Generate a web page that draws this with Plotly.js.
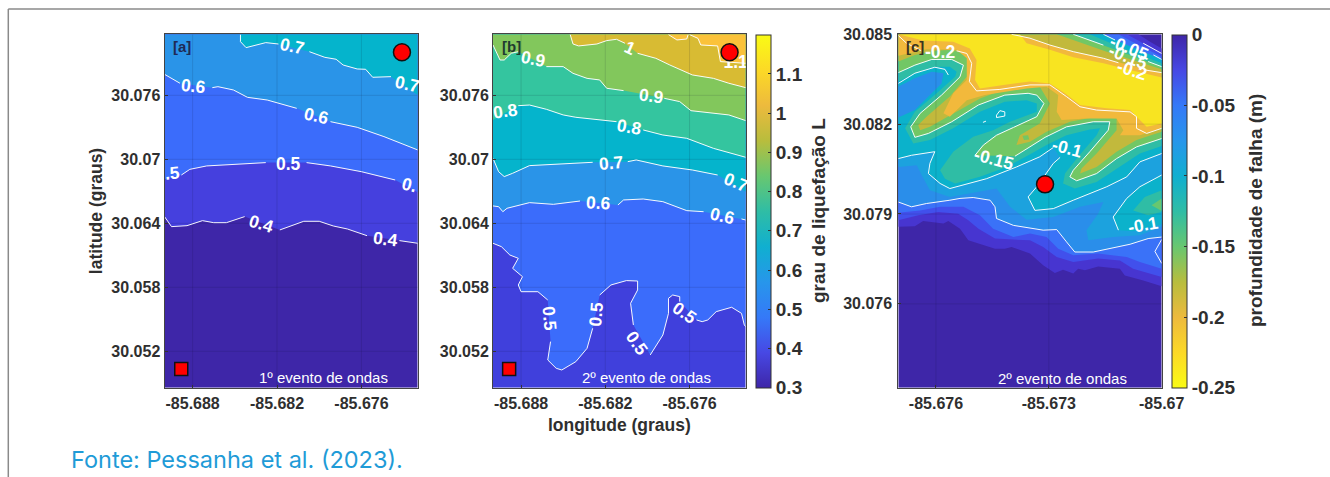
<!DOCTYPE html>
<html>
<head>
<meta charset="utf-8">
<script src="https://cdn.plot.ly/plotly-3.0.1.min.js"></script>
<style>html,body{margin:0;padding:0;background:#fff}</style>
</head>
<body>
<div id="chart" style="width:1330px;height:477px"></div>
<script>
// ---------- panel [a]: contour lines (null = gap under a label)
var a_lon_04=[-85.6900,-85.6895,-85.6884,-85.6873,-85.6865,-85.6856,-85.6843,null,-85.6818,-85.6801,-85.6790,-85.6780,-85.6770,-85.6756,null,-85.6733,-85.6720];
var a_lat_04=[30.06463,30.06369,30.06378,30.06425,30.06406,30.06406,30.06463,null,30.06338,30.06419,30.06419,30.06375,30.06347,30.06284,null,30.06238,30.06213];
var a_lon_05=[-85.6900,null,-85.6888,-85.6882,-85.6870,-85.6851,-85.6828,null,-85.6799,-85.6782,-85.6760,-85.6736,null,-85.6720];
var a_lat_05=[30.06813,null,30.06853,30.06906,30.06938,30.06953,30.06969,null,30.06969,30.06938,30.06884,30.06806,null,30.06691];
var a_lon_06=[-85.6900,-85.6889,null,-85.6866,-85.6862,-85.6851,-85.6841,-85.6827,-85.6806,null,-85.6782,-85.6763,-85.6744,-85.6730,-85.6720];
var a_lat_06=[30.07797,30.07713,null,30.07672,30.07681,30.07650,30.07581,30.07556,30.07478,null,30.07353,30.07300,30.07213,30.07144,30.07088];
var a_lon_07=[-85.6846,-85.6846,-85.6842,-85.6828,-85.6819,null,-85.6797,-85.6786,-85.6778,-85.6773,-85.6763,-85.6757,-85.6752,-85.6739,null,-85.6720];
var a_lat_07=[30.08169,30.08103,30.08047,30.08094,30.08081,null,30.08009,30.07956,30.07938,30.07884,30.07847,30.07844,30.07769,30.07775,null,30.07603];
var a_label_text=["0.7","0.7","0.6","0.6",".5","0.5","0.","0.4","0.4"];
var a_label_lon=[-85.68094,-85.67276,-85.68794,-85.67916,-85.68941,-85.68118,-85.67257,-85.68308,-85.6743];
var a_label_lat=[30.08063,30.07706,30.07688,30.07409,30.06869,30.06953,30.06759,30.06394,30.0625];
var a_label_angle=[12,12,6,13,-5,0,14,17,7];

// ---------- panel [b]
var b_lon_05=[-85.6900,-85.6894,-85.6888,-85.6882,-85.6886,-85.6879,-85.6882,-85.6880,-85.6868,-85.6861,null,-85.6859,-85.6861,-85.6855,-85.6851,-85.6841,-85.6833,-85.6829,null,-85.6824,-85.6816,-85.6805,-85.6797,-85.6797,-85.6802,-85.6800,null,-85.6788,-85.6779,-85.6775,-85.6775,-85.6772,-85.6767,-85.6767,null,-85.6755,-85.6751,-85.6747,-85.6741,-85.6730,-85.6723,-85.6721,-85.6720];
var b_lat_05=[30.06213,30.06181,30.06103,30.06072,30.05978,30.05900,30.05822,30.05759,30.05759,30.05681,null,30.05291,30.05119,30.05041,30.05025,30.05103,30.05228,30.05416,null,30.05728,30.05822,30.05863,30.05859,30.05775,30.05650,30.05447,null,30.05166,30.05353,30.05556,30.05697,30.05728,30.05713,30.05666,null,30.05494,30.05478,30.05494,30.05572,30.05613,30.05556,30.05447,30.05431];
var b_lon_06=[-85.6900,-85.6896,-85.6893,-85.6890,-85.6874,-85.6857,-85.6838,null,-85.6811,-85.6807,-85.6793,-85.6779,-85.6762,-85.6750,null,-85.6723,-85.6720];
var b_lat_06=[30.06563,30.06556,30.06509,30.06541,30.06594,30.06578,30.06609,null,30.06572,30.06619,30.06628,30.06603,30.06519,30.06509,null,30.06441,30.06431];
var b_lon_07=[-85.6900,-85.6896,-85.6892,-85.6886,-85.6874,-85.6850,-85.6829,null,-85.6804,-85.6798,-85.6779,-85.6758,-85.6740,null,-85.6720];
var b_lat_07=[30.07009,30.06884,30.06838,30.06869,30.06941,30.06956,30.06972,null,30.06978,30.06994,30.06938,30.06900,30.06853,null,30.06697];
var b_lon_08=[-85.6900,null,-85.6882,-85.6874,-85.6862,-85.6850,-85.6841,-85.6829,-85.6812,null,-85.6793,-85.6779,-85.6762,-85.6743,-85.6720];
var b_lat_08=[30.07369,null,30.07503,30.07509,30.07469,30.07416,30.07394,30.07375,30.07353,null,30.07275,30.07228,30.07197,30.07103,30.07019];
var b_lon_09=[-85.6900,-85.6895,-85.6892,-85.6887,-85.6882,null,-85.6862,-85.6850,-85.6843,-85.6833,-85.6824,-85.6819,-85.6807,null,-85.6778,-85.6767,-85.6759,-85.6743,-85.6732,-85.6720];
var b_lat_09=[30.08072,30.07931,30.07931,30.07994,30.08009,null,30.07869,30.07869,30.07806,30.07759,30.07744,30.07666,30.07644,null,30.07572,30.07541,30.07456,30.07431,30.07416,30.07363];
var b_lon_10=[-85.6845,-85.6843,-85.6839,-85.6826,-85.6819,-85.6812,-85.6806,null,-85.6797,-85.6784,-85.6774,-85.6758,-85.6743,-85.6732,-85.6720];
var b_lat_10=[30.08169,30.08081,30.08063,30.08081,30.08113,30.08125,30.08088,null,30.07994,30.07947,30.07884,30.07791,30.07759,30.07713,30.07672];
var b_lon_11=[-85.6760,-85.6754,-85.6752,-85.6740,-85.6738,-85.6721,-85.6720];
var b_lat_11=[30.08169,30.08134,30.08072,30.08063,30.07916,30.07900,30.07900];
var b_lon_11s=[-85.6775,-85.6769,-85.6762,-85.6761];
var b_lat_11s=[30.08169,30.08119,30.08128,30.08169];
var b_label_text=["0.9","0.9","0.8","0.8","0.7","0.7","0.6","0.6","1","0.5","0.5","0.5","0.5"];
var b_label_lon=[-85.6871,-85.67868,-85.68909,-85.68027,-85.68162,-85.67272,-85.68245,-85.67367,-85.68022,-85.686,-85.68264,-85.67974,-85.67635];
var b_label_lat=[30.07938,30.07594,30.07456,30.07306,30.06963,30.06791,30.06594,30.06469,30.08041,30.05509,30.05547,30.05281,30.05556];
var b_label_angle=[12,8,-8,10,-5,22,3,13,25,85,-85,55,35];

// ---------- panel [c]: filled bands, each walked from the left edge to the right edge and round the top
var c_lon_b1=[-85.677,-85.67656,-85.67634,-85.67611,-85.6758,-85.67567,-85.67536,-85.67514,-85.67443,-85.67417,-85.67399,-85.6735,-85.67315,-85.67284,-85.67262,-85.67235,-85.67222,-85.67204,-85.67169,-85.67111,-85.67098,-85.67049,-85.67,-85.67,-85.67031,-85.67062,-85.677];
var c_lat_b1=[30.07857,30.07859,30.07877,30.07873,30.07868,30.07877,30.07851,30.07812,30.07784,30.07784,30.0779,30.07768,30.07729,30.07703,30.07714,30.07701,30.07717,30.07712,30.07725,30.07717,30.07695,30.07678,30.07659,30.08453,30.08475,30.085,30.085];
var c_lon_b2=[-85.677,-85.67647,-85.67594,-85.67541,-85.67514,-85.67487,-85.67443,-85.6735,-85.67315,-85.67279,-85.67235,-85.67169,-85.67111,-85.67076,-85.67,-85.67,-85.67049,-85.67093,-85.677];
var c_lat_b2=[30.07879,30.07896,30.07907,30.07901,30.07879,30.07851,30.07818,30.07812,30.0779,30.07756,30.0774,30.07751,30.07745,30.07717,30.0769,30.08436,30.0847,30.085,30.085];
var c_lon_b3=[-85.677,-85.67642,-85.67589,-85.67527,-85.67483,-85.67448,-85.67394,-85.6735,-85.67306,-85.67275,-85.67235,-85.67169,-85.67093,-85.67058,-85.67,-85.67,-85.67067,-85.67115,-85.677];
var c_lat_b3=[30.07904,30.07912,30.07924,30.07924,30.07896,30.07851,30.07823,30.07835,30.07823,30.07784,30.07762,30.07768,30.07756,30.0774,30.07717,30.08425,30.08468,30.085,30.085];
var c_lon_m005=[-85.677,-85.67665,-85.67625,-85.67589,-85.67563,-85.67536,-85.67501,-85.67456,-85.67443,-85.67439,-85.67394,-85.67315,-85.67279,-85.67253,-85.67231,-85.67182,-85.6712,-85.67084,-85.67036,-85.67];
var c_lat_m005=[30.0794,30.07924,30.07935,30.0794,30.07946,30.07952,30.07955,30.07946,30.07924,30.07885,30.07862,30.07846,30.07848,30.07807,30.07773,30.07773,30.0779,30.07799,30.07818,30.07823];
var c_lon_m005_close=[-85.67,-85.67093,-85.67155,-85.677];
var c_lat_m005_close=[30.08416,30.08464,30.085,30.085];
var c_lon_b5=[-85.677,-85.67651,-85.67638,-85.67616,-85.67563,-85.67483,-85.67439,-85.67403,-85.67359,-85.67288,-85.67217,-85.67155,-85.67169,-85.672,-85.67195,-85.67129,-85.67058,-85.67,-85.67,-85.67093,-85.67155,-85.677];
var c_lat_b5=[30.08057,30.08063,30.0803,30.07979,30.07957,30.07974,30.07985,30.07924,30.07881,30.0789,30.07924,30.0794,30.07901,30.07846,30.07812,30.07823,30.07829,30.07857,30.08416,30.08464,30.085,30.085];
var c_lon_m010=[-85.677,-85.67665,-85.67603,-85.67616,-85.6762,-85.67589,-85.67563,-85.67465,-85.67386,-85.67324,-85.67288,null,-85.6727,-85.67288,-85.67332,-85.67355,-85.67337,-85.67288,-85.67235,-85.67146,-85.67093,-85.67058,-85.67];
var c_lat_m010=[30.08085,30.08096,30.08108,30.08069,30.08035,30.08002,30.07985,30.08018,30.08057,30.08091,30.08122,null,30.08089,30.08069,30.07991,30.07957,30.07912,30.07918,30.07946,30.07991,30.08024,30.08074,30.08102];
var c_lon_m010_close=[-85.67,-85.67093,-85.67155,-85.677];
var c_lat_m010_close=[30.08416,30.08464,30.085,30.085];
var c_lon_blob=[-85.67,-85.67058,-85.67093,-85.67129,-85.67115,-85.67076,-85.67];
var c_lat_blob=[30.0803,30.07991,30.07952,30.0789,30.07846,30.07842,30.07866];
var c_lon_blob2=[-85.67,-85.67045,-85.67076,-85.67036,-85.67];
var c_lat_blob2=[30.07979,30.07957,30.07912,30.07896,30.07907];
var c_lon_blob3=[-85.67,-85.67027,-85.67];
var c_lat_blob3=[30.07952,30.07929,30.0791];
var c_lon_b7=[-85.677,-85.67656,-85.67607,-85.67563,-85.67545,-85.67549,-85.67598,-85.67656,-85.67682,-85.6766,-85.67616,-85.67554,-85.67483,-85.67417,-85.67359,-85.67332,-85.67332,-85.67403,-85.67448,-85.67501,-85.67554,-85.67589,-85.67576,-85.67549,-85.67483,-85.67412,-85.67346,-85.67306,-85.67253,-85.67191,-85.67164,-85.67173,-85.67222,-85.67257,-85.67262,-85.67231,-85.67173,-85.67111,-85.67058,-85.67,-85.67,-85.67102,-85.67191,-85.677];
var c_lat_b7=[30.08342,30.0837,30.08392,30.08392,30.08375,30.08358,30.08303,30.08241,30.08186,30.08135,30.08147,30.08186,30.08241,30.08275,30.0828,30.08269,30.08241,30.08208,30.0818,30.08158,30.08108,30.08046,30.08018,30.08002,30.08024,30.08057,30.08102,30.0813,30.08163,30.08182,30.08186,30.08163,30.08091,30.08035,30.08002,30.07985,30.08007,30.08057,30.08102,30.08127,30.08403,30.08453,30.085,30.085];
var c_lon_m015=[-85.677,-85.67656,-85.67611,-85.67558,-85.67527,-85.67536,-85.67585,-85.67642,-85.67667,-85.67656,-85.6762,-85.67558,-85.67487,-85.67417,-85.67355,-85.67332,-85.67313,-85.67332,-85.67394,-85.67439,-85.67474,-85.67496,null,-85.6739,-85.6735,-85.6731,-85.67253,-85.67182,-85.67138,-85.67142,-85.67191,-85.67235,-85.67244,-85.67226,-85.67173,-85.6712,-85.67067,-85.67];
var c_lat_m015=[30.08372,30.08397,30.08416,30.08416,30.08397,30.08358,30.08297,30.08236,30.08191,30.08156,30.08169,30.08208,30.08264,30.08297,30.08303,30.08297,30.08269,30.08225,30.08189,30.08163,30.0813,30.08096,null,30.08093,30.08124,30.08156,30.08191,30.08208,30.08208,30.0818,30.08108,30.08046,30.08024,30.08011,30.08035,30.08085,30.08124,30.08152];
var c_lon_m015_close=[-85.67,-85.6712,-85.67235,-85.677];
var c_lat_m015_close=[30.08392,30.08448,30.085,30.085];
var c_lon_b9=[-85.677,-85.67656,-85.67603,-85.67554,-85.67514,-85.67514,-85.67563,-85.67625,-85.67647,-85.67642,-85.67616,-85.67554,-85.67483,-85.67412,-85.67324,-85.67297,-85.67324,-85.67377,-85.67386,-85.6735,-85.67306,-85.67244,-85.67173,-85.6712,-85.6712,-85.67173,-85.67213,-85.67217,-85.67173,-85.6712,-85.67067,-85.67,-85.67,-85.67146,-85.67279,-85.677];
var c_lat_b9=[30.08409,30.08431,30.08445,30.08448,30.08425,30.08364,30.08292,30.08225,30.08197,30.0818,30.08191,30.08236,30.08286,30.08319,30.08325,30.08269,30.08202,30.08163,30.0813,30.08141,30.08175,30.08208,30.08225,30.08219,30.0818,30.08102,30.08052,30.08035,30.08057,30.08108,30.08147,30.08175,30.08383,30.08442,30.085,30.085];
var c_lon_b10=[-85.677,-85.67625,-85.67545,-85.67518,-85.67518,-85.67554,-85.6758,-85.67563,-85.67518,-85.6747,-85.67359,-85.67306,-85.67275,-85.67279,-85.67266,-85.672,-85.6712,-85.67102,-85.67111,-85.67058,-85.67,-85.67,-85.67084,-85.67155,-85.67235,-85.67297,-85.6735,-85.67399,-85.677];
var c_lat_b10=[30.08428,30.0845,30.08448,30.0842,30.08347,30.08303,30.08236,30.08225,30.0828,30.08297,30.08319,30.08325,30.08297,30.08241,30.08214,30.08219,30.08219,30.0818,30.08163,30.08163,30.08186,30.08372,30.08397,30.0842,30.08442,30.08464,30.08487,30.085,30.085];
var c_lon_b11=[-85.677,-85.67634,-85.67554,-85.6751,-85.67492,-85.67496,-85.67483,-85.67421,-85.6735,-85.67297,-85.67257,-85.67217,-85.67146,-85.67084,-85.67058,-85.6704,-85.67,-85.67,-85.67084,-85.67155,-85.67235,-85.67297,-85.67359,-85.67377];
var c_lat_b11=[30.085,30.08479,30.08475,30.08453,30.08414,30.08347,30.08319,30.08331,30.08342,30.08336,30.08303,30.08264,30.08253,30.08247,30.08214,30.08191,30.08202,30.08356,30.08381,30.08403,30.08423,30.08448,30.0847,30.085];
var c_lon_tongue=[-85.677,-85.67656,-85.67611,-85.6758,-85.67585,-85.6762,-85.67656,-85.677];
var c_lat_tongue=[30.08325,30.08353,30.08375,30.0837,30.08336,30.08292,30.08247,30.08222];
var c_lon_spot=[-85.6737,-85.67355,-85.67352,-85.67366];
var c_lat_spot=[30.08161,30.08163,30.08149,30.08147];
// white contour lines of panel [c] that are not a fill edge
var c_lon_arc=[-85.677,-85.67656,-85.67603,-85.67576,-85.67567];
var c_lat_arc=[30.08336,30.0837,30.0839,30.08383,30.08364];
var c_lon_m02=[-85.677,-85.67678,-85.67634,null,-85.67545,-85.67518,-85.67505,-85.67511,-85.67492,-85.6743,-85.6735,-85.67297,-85.67253,-85.67217,-85.67173,-85.67084,-85.67067,-85.67067,-85.6704,-85.67];
var c_lat_m02=[30.08496,30.0847,30.08442,null,30.08445,30.08436,30.08403,30.08342,30.08311,30.08316,30.08331,30.08331,30.08292,30.08258,30.08247,30.08241,30.08225,30.08186,30.08169,30.08186];
var c_lon_tr02=[-85.67399,-85.6735,-85.67297,-85.67235,-85.67155,-85.67115,null,-85.67045,-85.67];
var c_lat_tr02=[30.085,30.08487,30.08464,30.08442,30.0842,30.08405,null,30.08381,30.08372];
var c_lon_tr015=[-85.67235,-85.67155,null,-85.67036,-85.67];
var c_lat_tr015=[30.085,30.08464,null,30.08409,30.08392];
var c_lon_tr01=[-85.67155,-85.67124,null,-85.67022,-85.67];
var c_lat_tr01=[30.085,30.08481,null,30.08431,30.08416];
var c_lon_tr005=[-85.67049,-85.67];
var c_lat_tr005=[30.0847,30.08436];
var c_lon_edge=[-85.67,-85.67018,-85.67];
var c_lat_edge=[30.07815,30.07775,30.07735];
var c_lon_ring=[-85.67439,-85.6743,-85.67417,-85.67417,-85.67439,-85.67439];
var c_lat_ring=[30.0823,30.08245,30.08241,30.08227,30.08222,30.0823];
var c_lon_dot=[-85.67475,-85.67467];
var c_lat_dot=[30.08206,30.0821];
var c_label_text=["-0.2","-0.15","-0.1","-0.1","-0.05","-0.15","-0.2"];
var c_label_lon=[-85.67589,-85.67446,-85.67253,-85.67051,-85.67086,-85.67089,-85.6708];
var c_label_lat=[30.0844,30.08085,30.08119,30.07862,30.08453,30.08423,30.08381];
var c_label_angle=[0,15,15,-10,22,22,18];

// ---------- axes
var ab_xrange=[-85.69,-85.672], ab_yrange=[30.04859,30.08172];
var c_xrange=[-85.677,-85.67], c_yrange=[30.0732,30.085];
var ab_xticks=[-85.688,-85.682,-85.676], ab_xlabels=["-85.688","-85.682","-85.676"];
var ab_yticks=[30.052,30.058,30.064,30.07,30.076], ab_ylabels=["30.052","30.058","30.064","30.07","30.076"];
var c_xticks=[-85.676,-85.673,-85.67], c_xlabels=["-85.676","-85.673","-85.67"];
var c_yticks=[30.076,30.079,30.082,30.085], c_ylabels=["30.076","30.079","30.082","30.085"];
var cb1_ticks=[0.3,0.4,0.5,0.6,0.7,0.8,0.9,1,1.1], cb1_labels=["0.3","0.4","0.5","0.6","0.7","0.8","0.9","1","1.1"];
var cb2_ticks=[-0.25,-0.2,-0.15,-0.1,-0.05,0], cb2_labels=["-0.25","-0.2","-0.15","-0.1","-0.05","0"];
var circle_a=[-85.67312,30.08003], square_a=[-85.68881,30.05034];
var circle_b=[-85.67315,30.08003], square_b=[-85.68885,30.05034];
var circle_c=[-85.6731,30.07999];

var parula=[[0,"#3e26a8"],[0.1,"#4748e4"],[0.2,"#3579f8"],[0.3,"#2796eb"],[0.4,"#10afd0"],[0.5,"#2fbda5"],[0.6,"#68c770"],[0.7,"#b8bd3d"],[0.8,"#edba3d"],[0.9,"#fcd926"],[1,"#f9fb15"]];
var FONT="Liberation Sans";
var INK="#2f2f2f";
var LABEL_SIZE=17.5, NOTE_SIZE=15, TAG_SIZE=15;
var traces=[], annotations=[];

function stripNull(a){return a.filter(function(v){return v!==null;});}
function fillPoly(lon,lat,color,ax){
  traces.push({type:"scatter",mode:"lines",x:stripNull(lon),y:stripNull(lat),fill:"toself",fillcolor:color,line:{width:0,color:color},hoverinfo:"skip",showlegend:false,xaxis:ax[0],yaxis:ax[1]});
}
function band(lon,lat,closeLon,closeLat,color,ax){
  fillPoly(stripNull(lon).concat(closeLon),stripNull(lat).concat(closeLat),color,ax);
}
function line(lon,lat,ax){
  traces.push({type:"scatter",mode:"lines",x:lon,y:lat,connectgaps:false,line:{color:"rgba(255,255,255,0.95)",width:1},hoverinfo:"skip",showlegend:false,xaxis:ax[0],yaxis:ax[1]});
}
function grid(xt,yt,xr,yr,ax){
  var gx=[],gy=[];
  xt.forEach(function(t){gx.push(t,t,null);gy.push(yr[0],yr[1],null);});
  yt.forEach(function(t){gx.push(xr[0],xr[1],null);gy.push(t,t,null);});
  traces.push({type:"scatter",mode:"lines",x:gx,y:gy,connectgaps:false,line:{color:"rgba(20,20,40,0.12)",width:1},hoverinfo:"skip",showlegend:false,xaxis:ax[0],yaxis:ax[1]});
}
function labels(text,lon,lat,angle,ax,size){
  text.forEach(function(t,i){
    annotations.push({text:t,x:lon[i],y:lat[i],xref:ax[0],yref:ax[1],showarrow:false,textangle:angle[i],xanchor:"center",yanchor:"middle",font:{family:FONT,size:size,color:"#fff",weight:"bold"}});
  });
}
function note(text,x,y,ax,color,size,weight){
  annotations.push({text:text,x:x,y:y,xref:ax[0],yref:ax[1],showarrow:false,xanchor:"center",yanchor:"middle",font:{family:FONT,size:size,color:color,weight:weight}});
}
function marker(pt,symbol,size,ax){
  traces.push({type:"scatter",mode:"markers",x:[pt[0]],y:[pt[1]],marker:{symbol:symbol,size:size,color:"#ff0000",line:{color:"#111",width:1.5}},hoverinfo:"skip",showlegend:false,xaxis:ax[0],yaxis:ax[1]});
}
function rect(xr,yr,color,ax){fillPoly([xr[0],xr[1],xr[1],xr[0]],[yr[0],yr[0],yr[1],yr[1]],color,ax);}
function closeTop(xr,yr){return {lon:[xr[1],xr[0]],lat:[yr[1],yr[1]]};}

// ---- panel a
var A=["x","y"], ct=closeTop(ab_xrange,ab_yrange);
rect(ab_xrange,ab_yrange,"#3e26a8",A);
band(a_lon_04,a_lat_04,ct.lon,ct.lat,"#4540de",A);
band(a_lon_05,a_lat_05,ct.lon,ct.lat,"#3b6cfb",A);
band(a_lon_06,a_lat_06,ct.lon,ct.lat,"#2a94e8",A);
band(a_lon_07,a_lat_07,ct.lon,ct.lat,"#05b4cc",A);
grid(ab_xticks,ab_yticks,ab_xrange,ab_yrange,A);
[[a_lon_04,a_lat_04],[a_lon_05,a_lat_05],[a_lon_06,a_lat_06],[a_lon_07,a_lat_07]].forEach(function(p){line(p[0],p[1],A);});
marker(circle_a,"circle",17,A);marker(square_a,"square",13,A);
labels(a_label_text,a_label_lon,a_label_lat,a_label_angle,A,LABEL_SIZE);
note("[a]",-85.68877,30.08056,A,"#1f2a55",TAG_SIZE,"bold");
note("1º evento de ondas",-85.67869,30.04953,A,"#ffffff",NOTE_SIZE,"normal");

// ---- panel b
var B=["x2","y2"];
rect(ab_xrange,ab_yrange,"#4040dc",B);
band(b_lon_05,b_lat_05,ct.lon,ct.lat,"#3b6cfb",B);
band(b_lon_06,b_lat_06,ct.lon,ct.lat,"#2a94e8",B);
band(b_lon_07,b_lat_07,ct.lon,ct.lat,"#05b4cc",B);
band(b_lon_08,b_lat_08,ct.lon,ct.lat,"#34c59f",B);
band(b_lon_09,b_lat_09,ct.lon,ct.lat,"#82c75c",B);
band(b_lon_10,b_lat_10,ct.lon,ct.lat,"#d8bb33",B);
band(b_lon_11,b_lat_11,[ab_xrange[1]],[ab_yrange[1]],"#fbc23a",B);
fillPoly(b_lon_11s,b_lat_11s,"#fbc23a",B);
grid(ab_xticks,ab_yticks,ab_xrange,ab_yrange,B);
[[b_lon_05,b_lat_05],[b_lon_06,b_lat_06],[b_lon_07,b_lat_07],[b_lon_08,b_lat_08],[b_lon_09,b_lat_09],[b_lon_10,b_lat_10],[b_lon_11,b_lat_11],[b_lon_11s,b_lat_11s]].forEach(function(p){line(p[0],p[1],B);});
traces.push({type:"scatter",mode:"text",x:[-85.67272],y:[30.079],text:["1.1"],textposition:"middle center",textfont:{family:FONT,size:LABEL_SIZE,color:"#fff",weight:"bold"},hoverinfo:"skip",showlegend:false,xaxis:"x2",yaxis:"y2"});
marker(circle_b,"circle",17,B);marker(square_b,"square",13,B);
labels(b_label_text,b_label_lon,b_label_lat,b_label_angle,B,LABEL_SIZE);
note("[b]",-85.68868,30.08056,B,"#1f3a30",TAG_SIZE,"bold");
note("2º evento de ondas",-85.67908,30.04953,B,"#ffffff",NOTE_SIZE,"normal");

// ---- panel c
var C=["x3","y3"];
rect(c_xrange,c_yrange,"#3e26a8",C);
fillPoly(c_lon_b1,c_lat_b1,"#4735d0",C);
fillPoly(c_lon_b2,c_lat_b2,"#4150ec",C);
fillPoly(c_lon_b3,c_lat_b3,"#3a72f8",C);
band(c_lon_m005,c_lat_m005,c_lon_m005_close,c_lat_m005_close,"#2a8eea",C);
fillPoly(c_lon_b5,c_lat_b5,"#1ca2de",C);
band(c_lon_m010,c_lat_m010,c_lon_m010_close,c_lat_m010_close,"#0bb2cb",C);
fillPoly(c_lon_blob,c_lat_blob,"#0bb2cb",C);
fillPoly(c_lon_blob2,c_lat_blob2,"#2fbda5",C);
fillPoly(c_lon_blob3,c_lat_blob3,"#68c770",C);
fillPoly(c_lon_b7,c_lat_b7,"#2fbda5",C);
band(c_lon_m015,c_lat_m015,c_lon_m015_close,c_lat_m015_close,"#72c765",C);
fillPoly(c_lon_b9,c_lat_b9,"#c2b93c",C);
fillPoly(c_lon_spot,c_lat_spot,"#72c765",C);
fillPoly(c_lon_b10,c_lat_b10,"#f2b93c",C);
fillPoly(c_lon_b11,c_lat_b11,"#f8e421",C);
fillPoly(c_lon_tongue,c_lat_tongue,"#2a8eea",C);
grid(c_xticks,c_yticks,c_xrange,c_yrange,C);
[[c_lon_m005,c_lat_m005],[c_lon_m010,c_lat_m010],[c_lon_m015,c_lat_m015],[c_lon_arc,c_lat_arc],[c_lon_m02,c_lat_m02],[c_lon_tr02,c_lat_tr02],[c_lon_tr015,c_lat_tr015],[c_lon_tr01,c_lat_tr01],[c_lon_tr005,c_lat_tr005],[c_lon_edge,c_lat_edge],[c_lon_ring,c_lat_ring],[c_lon_dot,c_lat_dot],[c_lon_blob.slice(0,5),c_lat_blob.slice(0,5)]].forEach(function(p){line(p[0],p[1],C);});
marker(circle_c,"circle",17,C);
labels(c_label_text,c_label_lon,c_label_lat,c_label_angle,C,LABEL_SIZE);
note("[c]",-85.67656,30.08459,C,"#3a3320",TAG_SIZE,"bold");
note("2º evento de ondas",-85.67264,30.07352,C,"#ffffff",NOTE_SIZE,"normal");

// ---- colour bars (a hidden one-point trace carries each native colour bar)
function colorbarTrace(pt,cmin,cmax,leftPx,scale,ticks,ticktext,ax){
  traces.push({type:"scatter",mode:"markers",x:[pt[0]],y:[pt[1]],xaxis:ax[0],yaxis:ax[1],hoverinfo:"skip",showlegend:false,
    marker:{size:1,opacity:0,color:[cmin],cmin:cmin,cmax:cmax,colorscale:scale,showscale:true,
      colorbar:{x:leftPx/1330,xanchor:"left",xpad:0,ypad:0,y:1-387.7/477,yanchor:"bottom",len:353.4,lenmode:"pixels",thickness:14.7,thicknessmode:"pixels",
        outlinewidth:1,outlinecolor:"#333",tickmode:"array",tickvals:ticks,ticktext:ticktext,ticks:"inside",ticklen:3,tickcolor:"#333",
        tickfont:{family:FONT,size:19,color:INK,weight:"bold"}}}});
}
var parulaRev=parula.map(function(s){return [1-s[0],s[1]];}).reverse();
colorbarTrace(circle_b,0.3,1.2,756,parula,cb1_ticks,cb1_labels,B);
colorbarTrace(circle_c,-0.25,0,1171.7,parulaRev,cb2_ticks,cb2_labels,C);

function axis(domain,range,tv,tt,anchor,extra){
  var o={domain:domain,range:range,tickmode:"array",tickvals:tv,ticktext:tt,anchor:anchor,ticks:"inside",ticklen:3,tickwidth:1,tickcolor:"#333",
    showgrid:false,zeroline:false,showline:true,mirror:true,linecolor:"#444",linewidth:1,layer:"above traces",automargin:false,
    tickfont:{family:FONT,size:16,color:INK,weight:"bold"}};
  for(var k in extra)o[k]=extra[k];
  return o;
}
var yDom=[1-387.7/477,1-34.3/477];
var titleFont={family:FONT,size:17.5,color:INK,weight:"bold"};
function sideTitle(text,px,py){
  return {text:text,xref:"paper",yref:"paper",x:px/1330,y:1-py/477,xanchor:"center",yanchor:"middle",showarrow:false,textangle:-90,font:{family:FONT,size:19,color:INK,weight:"bold"}};
}
var layout={width:1330,height:477,autosize:false,margin:{l:0,r:0,t:0,b:0},paper_bgcolor:"#fff",plot_bgcolor:"#fff",showlegend:false,
  xaxis:axis([164.5/1330,417.7/1330],ab_xrange,ab_xticks,ab_xlabels,"y",{ticklabelstandoff:1}),
  yaxis:axis(yDom,ab_yrange,ab_yticks,ab_ylabels,"x",{title:{text:"latitude (graus)",font:titleFont,standoff:4}}),
  xaxis2:axis([493/1330,745.7/1330],ab_xrange,ab_xticks,ab_xlabels,"y2",{ticklabelstandoff:1,title:{text:"longitude (graus)",font:titleFont,standoff:7}}),
  yaxis2:axis(yDom,ab_yrange,ab_yticks,ab_ylabels,"x2",{}),
  xaxis3:axis([898.3/1330,1161.7/1330],c_xrange,c_xticks,c_xlabels,"y3",{ticklabelstandoff:1}),
  yaxis3:axis(yDom,c_yrange,c_yticks,c_ylabels,"x3",{ticklabelstandoff:2}),
  annotations:annotations.concat([
    sideTitle("grau de liquefação L",818,211),
    sideTitle("profundidade de falha (m)",1255,211),
    {text:"Fonte: Pessanha et al. (2023).",xref:"paper",yref:"paper",x:69/1330,y:1-459/477,xanchor:"left",yanchor:"middle",showarrow:false,font:{family:"Inter",size:23.5,color:"#1f9bd7"}}]),
  shapes:[
    {type:"line",xref:"paper",yref:"paper",x0:8.3/1330,x1:1,y0:1-9/477,y1:1-9/477,line:{color:"#8a8a8a",width:1.5}},
    {type:"line",xref:"paper",yref:"paper",x0:8.3/1330,x1:8.3/1330,y0:0,y1:1-9/477,line:{color:"#8a8a8a",width:1.5}}
  ]
};
Plotly.newPlot("chart",traces,layout,{displayModeBar:false,responsive:false,staticPlot:true});
</script>
</body>
</html>
